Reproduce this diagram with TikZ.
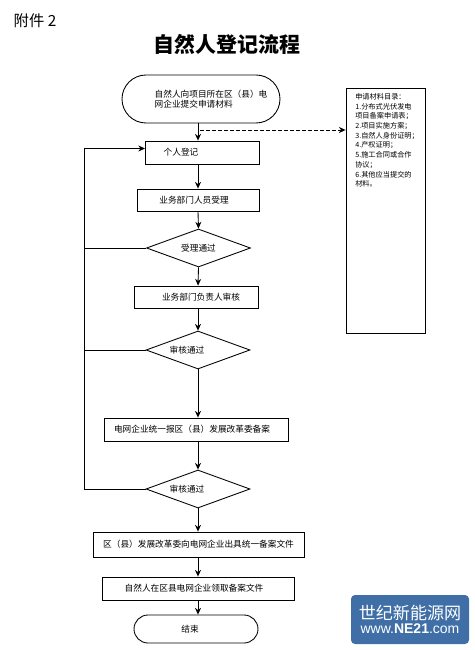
\documentclass[tikz,border=0pt]{standalone}
\usepackage{fontspec}
\setmainfont{Noto Sans CJK SC}
\newfontfamily\logolatin{Liberation Sans}
\usepackage{tikz}
\usetikzlibrary{arrows.meta, shapes.geometric}
\definecolor{logoblue}{HTML}{3F6FA6}
\tikzset{
  wh/.style 2 args={minimum width=#1*0.75pt, minimum height=#2*0.75pt},
  base/.style={draw=black, line width=0.65pt, inner sep=0pt, fill=white},
  flowbox/.style={base, rectangle},
  check/.style={base, diamond, aspect=2.7, wh={104}{38}},
  terminal/.style={base, rectangle, rounded corners=#1},
  link/.style={->, line width=0.65pt},
  boxtext/.style={font=\fontsize{6.5}{8}\selectfont},
}

\begin{document}
\begin{tikzpicture}[x=0.75pt, y=-0.75pt, >={Stealth[length=5pt,width=4.5pt]}, every node/.style={boxtext}]
\useasboundingbox (0,0) rectangle (475,650);
% header
\node[font=\fontsize{11.5}{13}\selectfont] (annex) at (35,21) {附件 2};
\node[font=\fontsize{15.7}{18}\selectfont\bfseries] (heading) at (227,44) {自然人登记流程};
% main column
\coordinate (axis) at (198,0);
\node[terminal=18pt, wh={158}{48}, align=left] (start) at (201,99) {\hspace*{15pt}自然人向项目所在区（县）电\\\hspace*{15pt}网企业提交申请材料};
\node[flowbox, wh={114}{23}] (person) at (202,152.5) {个人登记\hspace*{31.5pt}};
\node[flowbox, wh={122}{22}] (accept) at (198,200) {业务部门人员受理\hspace*{6pt}};
\node[check] (passA) at (198.5,248) {受理通过};
\node[flowbox, wh={124}{22}] (review) at (196,297) {\hspace*{7.5pt}业务部门负责人审核};
\node[check] (passB) at (198,350) {审核通过\hspace*{16.5pt}};
\node[flowbox, wh={184}{23}] (report) at (196,429.5) {电网企业统一报区（县）发展改革委备案\hspace*{6pt}};
\node[check] (passC) at (198,489) {审核通过\hspace*{16.5pt}};
\node[flowbox, wh={211}{25}] (issue) at (198.5,544.5) {区（县）发展改革委向电网企业出具统一备案文件};
\node[flowbox, wh={192}{23}] (collect) at (198,588.5) {自然人在区县电网企业领取备案文件\hspace*{6pt}};
\node[terminal=10.5pt, wh={124}{28}] (finish) at (196,629) {结束\hspace*{9pt}};
% list of materials
\node[flowbox, wh={79}{245}] (materials) at (385.5,210.5) {};
\node[anchor=north west, align=left, inner sep=0pt, font=\fontsize{5.4}{7.3}\selectfont] (matlist) at (355,93) {申请材料目录：\\1.分布式光伏发电\\项目备案申请表；\\2.项目实施方案；\\3.自然人身份证明；\\4.产权证明；\\5.施工合同或合作\\协议；\\6.其他应当提交的\\材料。};
% downward arrows
\draw[link] (start.south -| axis) -- (person.north -| axis);
\draw[link] (person.south -| axis) -- (accept.north -| axis);
\draw[link] (accept.south -| axis) -- (passA.north);
\draw[link] (passA.south) -- (review.north -| axis);
\draw[link] (review.south -| axis) -- (passB.north);
\draw[link] (passB.south) -- (report.north -| axis);
\draw[link] (report.south -| axis) -- (passC.north);
\draw[link] (passC.south) -- (issue.north -| axis);
\draw[link] (issue.south -| axis) -- (collect.north -| axis);
\draw[link] (collect.south -| axis) -- (finish.north -| axis);
% dashed branch to the list
\coordinate (branch) at (200,130);
\draw[link, dash pattern=on 3pt off 1.5pt] (branch) -- (branch -| materials.west);
% return line on the left
\coordinate (back) at (84,148.5);
\coordinate (backin) at (145,148.5);
\draw[link] (passC.west) -- (passC.west -| back) -- (back) -- (backin);
\draw[line width=0.65pt] (passA.west) -- (passA.west -| back);
\draw[line width=0.65pt] (passB.west) -- (passB.west -| back);
% logo in the corner
\node[rectangle, rounded corners=3pt, fill=logoblue, text=white, wh={118}{49}, inner sep=0pt, align=center] (logo) at (410,619.5) {{\fontsize{12.8}{15}\selectfont 世纪新能源网}\\[1pt]{\logolatin\fontsize{10.5}{12}\selectfont www.\textbf{NE21}.com}};
\end{tikzpicture}
\end{document}
